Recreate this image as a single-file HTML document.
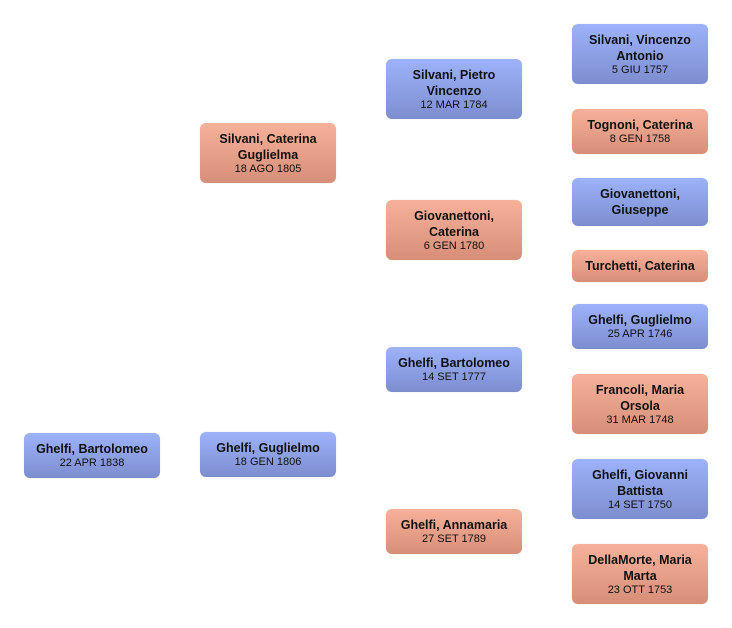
<!DOCTYPE html>
<html><head><meta charset="utf-8"><style>
html,body{margin:0;padding:0;background:#fff;width:732px;height:628px;overflow:hidden}
.b{position:absolute;width:136px;border-radius:6px;box-sizing:border-box;display:flex;flex-direction:column;justify-content:center;align-items:center;text-align:center;font-family:"Liberation Sans",sans-serif;color:#111;box-shadow:0 0 1px rgba(0,0,0,.15)}
.m{background:linear-gradient(#9db2fa,#7d8ecf)}
.f{background:linear-gradient(#f7b19a,#d68e78)}
.n{font-weight:bold;font-size:12.5px;line-height:16px;padding:0 4px;white-space:normal}
.d{font-size:11px;line-height:13px}
</style></head><body>
<div class="b m" style="left:24px;top:433px;height:45px"><div class="n">Ghelfi, Bartolomeo</div><div class="d">22 APR 1838</div></div>

<div class="b f" style="left:200px;top:123px;height:60px"><div class="n">Silvani, Caterina Guglielma</div><div class="d">18 AGO 1805</div></div>
<div class="b m" style="left:200px;top:432px;height:45px"><div class="n">Ghelfi, Guglielmo</div><div class="d">18 GEN 1806</div></div>

<div class="b m" style="left:386px;top:59px;height:60px"><div class="n">Silvani, Pietro Vincenzo</div><div class="d">12 MAR 1784</div></div>
<div class="b f" style="left:386px;top:200px;height:60px"><div class="n">Giovanettoni, Caterina</div><div class="d">6 GEN 1780</div></div>
<div class="b m" style="left:386px;top:347px;height:45px"><div class="n">Ghelfi, Bartolomeo</div><div class="d">14 SET 1777</div></div>
<div class="b f" style="left:386px;top:509px;height:45px"><div class="n">Ghelfi, Annamaria</div><div class="d">27 SET 1789</div></div>

<div class="b m" style="left:572px;top:24px;height:60px"><div class="n">Silvani, Vincenzo Antonio</div><div class="d">5 GIU 1757</div></div>
<div class="b f" style="left:572px;top:109px;height:45px"><div class="n">Tognoni, Caterina</div><div class="d">8 GEN 1758</div></div>
<div class="b m" style="left:572px;top:178px;height:48px"><div class="n">Giovanettoni,<br>Giuseppe</div></div>
<div class="b f" style="left:572px;top:250px;height:32px"><div class="n" style="white-space:nowrap">Turchetti, Caterina</div></div>
<div class="b m" style="left:572px;top:304px;height:45px"><div class="n">Ghelfi, Guglielmo</div><div class="d">25 APR 1746</div></div>
<div class="b f" style="left:572px;top:374px;height:60px"><div class="n">Francoli, Maria<br>Orsola</div><div class="d">31 MAR 1748</div></div>
<div class="b m" style="left:572px;top:459px;height:60px"><div class="n">Ghelfi, Giovanni<br>Battista</div><div class="d">14 SET 1750</div></div>
<div class="b f" style="left:572px;top:544px;height:60px"><div class="n">DellaMorte, Maria<br>Marta</div><div class="d">23 OTT 1753</div></div>
</body></html>
